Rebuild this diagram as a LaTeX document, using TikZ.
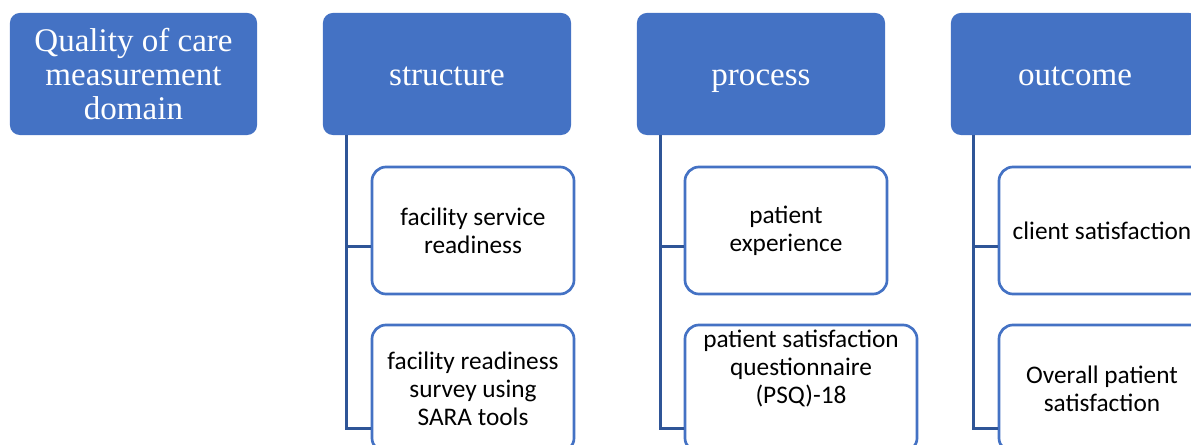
\documentclass[tikz,border=0pt]{standalone}
\usepackage{fontspec}
\setmainfont{Carlito}
\newfontfamily\hdrfont{Liberation Serif}
\definecolor{smartblue}{HTML}{4472C4}
\definecolor{linkblue}{HTML}{2F5597}

\begin{document}
\begin{tikzpicture}[x=0.025cm,y=-0.025cm]

    \tikzset{
      header/.style={
        fill=smartblue,
        rounded corners=7pt,
        minimum width=6.2cm,
        minimum height=3.05cm,
        inner sep=2pt,
        text=white,
        align=center,
        font=\hdrfont\fontsize{23.5}{24.2}\selectfont,
      },
      hdrword/.style={
        header,
        text height=17pt,
        text depth=0pt,
      },
      itemtext/.style={
        align=center,
        font=\fontsize{18}{20}\selectfont,
      },
      item/.style={
        itemtext,
        draw=smartblue,
        line width=1.9pt,
        fill=white,
        rounded corners=10pt,
        minimum width=5.05cm,
        minimum height=3.175cm,
      },
      link/.style={
        draw=linkblue,
        line width=2.1pt,
      },
    }
    \useasboundingbox (0,0) rectangle (1191,445);
    \clip (0,0) rectangle (1191,445);

	\node[header, minimum width=6.175cm] (domain) at (133.5,74) {Quality of care\\measurement\\domain};
	\node[hdrword] (struct) at (447,74) {structure};
	\node[hdrword] (proc) at (761,74) {process};
	\node[hdrword] (outc) at (1075,74) {outcome};

	\coordinate (sspine) at ([xshift=0.6cm]struct.south west);
	\coordinate (pspine) at ([xshift=0.6cm]proc.south west);
	\coordinate (ospine) at ([xshift=0.575cm]outc.south west);

	\node[item] (s1) at (473,230.5) {facility service\\readiness};
	\node[item] (s2) at (473,388.5) {facility readiness\\survey using\\SARA tools};
	\node[item] (p1) at (786,230.5) {patient\\experience};
	\node[item, minimum width=5.8cm,
	  label={[itemtext, yshift=14.2pt]center:patient satisfaction\\questionnaire\\(PSQ)-18}] (p2) at (801,388.5) {};
	\node[item, minimum width=5.15cm] (o1) at (1102,230.5) {client satisfaction};
	\node[item, minimum width=5.15cm] (o2) at (1102,388.5) {Overall patient\\satisfaction};

	\draw[link] (sspine) |- ([yshift=-0.4cm]s1.west);
	\draw[link] (sspine) |- ([yshift=-1cm]s2.west);
	\draw[link] (pspine) |- ([yshift=-0.4cm]p1.west);
	\draw[link] (pspine) |- ([yshift=-1cm]p2.west);
	\draw[link] (ospine) |- ([yshift=-0.4cm]o1.west);
	\draw[link] (ospine) |- ([yshift=-1cm]o2.west);

\end{tikzpicture}
\end{document}
